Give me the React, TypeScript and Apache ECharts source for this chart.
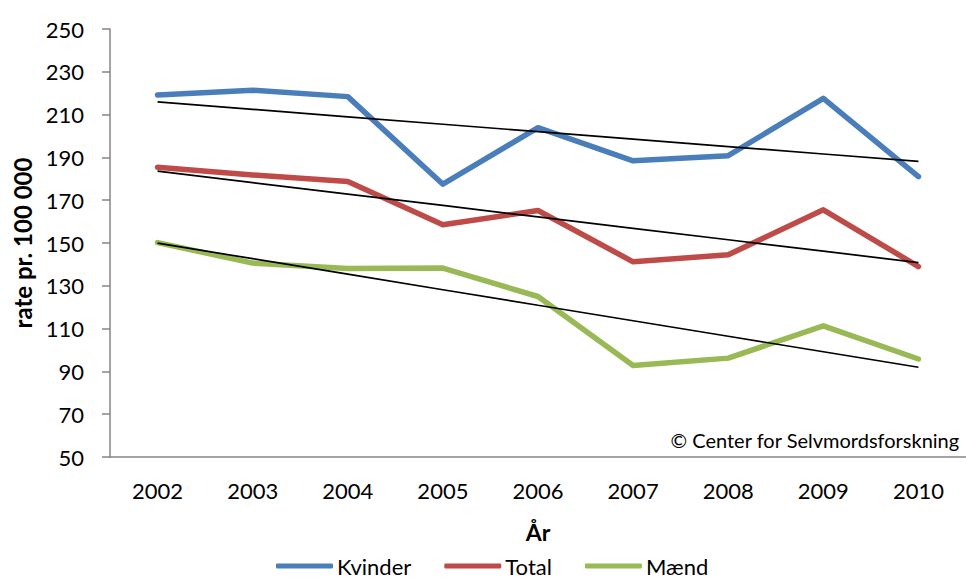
import React, { useEffect, useRef } from "react";
import * as echarts from "echarts";

const years = ["2002", "2003", "2004", "2005", "2006", "2007", "2008", "2009", "2010"];
const kvinder = [219.2, 221.4, 218.4, 177.5, 203.9, 188.4, 190.8, 217.6, 181.0];
const total = [185.4, 181.8, 178.7, 158.5, 165.2, 141.2, 144.5, 165.5, 139.0];
const maend = [150.2, 140.6, 138.1, 138.3, 125.0, 92.8, 96.2, 111.3, 95.8];

const seriesNames = ["Kvinder", "Total", "Mænd"];
const seriesColors = ["#4A7EBB", "#BE4B48", "#98B954"];

// Least-squares linear trend (like Excel's trendline)
function trend(values: number[]): number[] {
  const n = values.length;
  const xs = values.map((_, i) => i);
  const mx = xs.reduce((a, b) => a + b, 0) / n;
  const my = values.reduce((a, b) => a + b, 0) / n;
  let num = 0;
  let den = 0;
  for (let i = 0; i < n; i++) {
    num += (xs[i] - mx) * (values[i] - my);
    den += (xs[i] - mx) * (xs[i] - mx);
  }
  const slope = num / den;
  const icpt = my - slope * mx;
  return xs.map((x) => +(icpt + slope * x).toFixed(2));
}

const FONT = "Lato, 'Open Sans', sans-serif";

export default function App() {
  const ref = useRef<HTMLDivElement>(null);
  useEffect(() => {
    if (!ref.current) return;
    const chart = echarts.init(ref.current, undefined, { renderer: "svg" });
    const data = [kvinder, total, maend];
    const mainSeries = data.map((d, i) => ({
      name: seriesNames[i],
      type: "line" as const,
      data: d,
      symbol: "none",
      z: 2,
      lineStyle: { width: 5.5, color: seriesColors[i], cap: "round", join: "round" },
      itemStyle: { color: seriesColors[i] },
    }));
    const trendSeries = data.map((d, i) => ({
      name: seriesNames[i] + " trend",
      type: "line" as const,
      data: trend(d),
      symbol: "none",
      z: 3,
      silent: true,
      lineStyle: { width: 1.7, color: "#000000" },
    }));
    chart.setOption({
      animation: false,
      textStyle: { fontFamily: FONT },
      grid: { left: 110, top: 29, height: 428, width: 873, containLabel: false },
      xAxis: {
        type: "category",
        data: years,
        boundaryGap: true,
        name: "År",
        nameLocation: "middle",
        nameGap: 63,
        nameTextStyle: { fontFamily: FONT, fontSize: 23, fontWeight: "bold", color: "#000" },
        axisLine: { lineStyle: { color: "#868686", width: 1.5 } },
        axisTick: { show: false },
        axisLabel: { color: "#000", fontSize: 22, fontFamily: FONT, margin: 22 },
        splitLine: { show: false },
      },
      yAxis: {
        type: "value",
        min: 50,
        max: 250,
        interval: 20,
        name: "rate pr. 100 000",
        nameLocation: "middle",
        nameGap: 74,
        nameTextStyle: { fontFamily: FONT, fontSize: 24, fontWeight: "bold", color: "#000" },
        axisLine: { show: true, lineStyle: { color: "#868686", width: 1.5 } },
        axisTick: { show: true, inside: false, length: 8, lineStyle: { color: "#868686", width: 1.5 } },
        axisLabel: { color: "#000", fontSize: 22, fontFamily: FONT, margin: 26 },
        splitLine: { show: false },
      },
      legend: {
        data: seriesNames,
        bottom: 4,
        left: 276,
        padding: 0,
        icon: "roundRect",
        itemWidth: 57,
        itemHeight: 5,
        itemGap: 33,
        textStyle: { fontSize: 22, lineHeight: 22, fontFamily: FONT, color: "#000", padding: [0, 0, 0, -1] },
      },
      graphic: [
        {
          type: "text",
          right: 6,
          top: 430,
          style: { text: "© Center for Selvmordsforskning", fontSize: 20, fontFamily: FONT, fill: "#000" },
        },
      ],
      series: [...mainSeries, ...trendSeries],
    });
    return () => chart.dispose();
  }, []);
  return (
    <div
      ref={ref}
      style={{ position: "fixed", left: 0, top: 0, width: 966, height: 581, background: "#fff" }}
    />
  );
}
